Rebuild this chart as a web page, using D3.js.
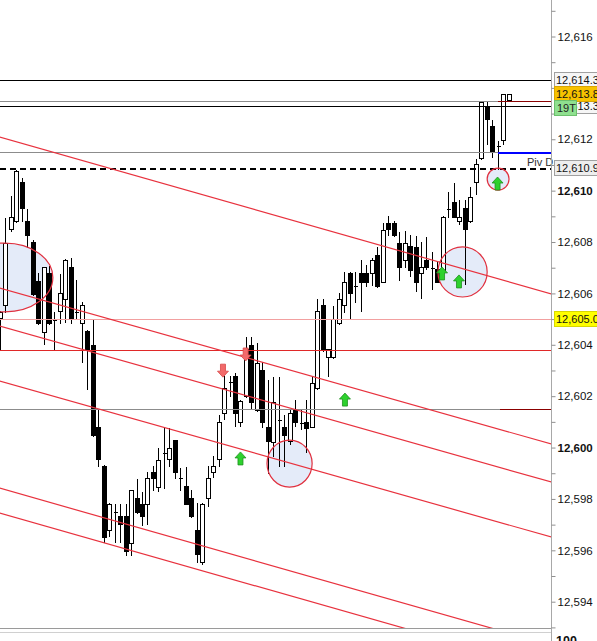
<!DOCTYPE html>
<html><head><meta charset="utf-8">
<script src="https://cdn.jsdelivr.net/npm/d3@7"></script>
<style>
html,body{margin:0;padding:0;background:#fff;overflow:hidden}
svg{display:block}
text{font-family:"Liberation Sans",Arial,sans-serif}
</style></head>
<body>
<svg id="c" width="597" height="641"></svg>
<script>
// ---------- DATA ----------
const opens = [12605.04,12605.51,12608.47,12608.78,12610.30,12608.78,12608.00,12606.48,12604.46,12606.79,
12604.96,12605.28,12605.78,12606.99,12605.28,12604.81,12604.50,12603.99,12600.80,12599.28,
12596.79,12597.49,12597.30,12597.30,12596.28,12598.00,12597.80,12597.80,12599.01,12598.46,
12599.79,12599.52,12600.29,12598.81,12598.50,12598.00,12596.79,12595.51,12598.00,12599.01,
12599.52,12601.31,12602.55,12602.78,12600.99,12601.97,12603.99,12601.46,12602.98,12600.80,
12600.18,12601.07,12600.80,12600.25,12601.46,12600.96,12600.99,12600.80,12602.28,12605.51,
12603.49,12603.49,12604.81,12605.51,12606.79,12606.29,12606.79,12606.79,12606.79,12607.49,
12606.44,12608.74,12608.74,12607.96,12607.30,12607.81,12607.77,12606.79,12607.30,12607.00,
12606.95,12606.83,12609.29,12609.52,12608.78,12609.29,12608.78,12610.30,12611.27,12613.29,
12612.48,12611.74,12611.97,12613.49];
const closes = [12605.24,12607.96,12608.97,12610.75,12609.29,12608.27,12605.94,12604.81,12606.99,12604.81,
12604.96,12605.98,12607.30,12605.00,12605.28,12605.51,12603.80,12600.45,12599.52,12596.48,
12597.80,12597.49,12597.02,12595.97,12598.31,12597.49,12597.30,12598.81,12598.78,12599.48,
12599.79,12599.98,12599.01,12598.81,12597.80,12597.30,12595.82,12597.80,12598.81,12599.28,
12600.99,12602.28,12602.55,12601.31,12601.81,12603.80,12601.77,12603.29,12600.99,12600.25,
12601.77,12601.07,12600.45,12601.31,12600.96,12600.96,12600.76,12602.51,12605.28,12603.80,
12603.80,12605.00,12605.78,12606.44,12605.98,12606.29,12606.44,12606.44,12607.30,12606.25,
12608.43,12608.47,12608.27,12606.99,12607.96,12606.91,12606.44,12606.99,12606.99,12607.00,
12606.44,12608.97,12609.29,12608.97,12608.97,12608.47,12609.75,12611.00,12613.45,12612.75,
12611.47,12611.74,12613.76,12613.76];
const highs = [12605.32,12608.93,12609.79,12610.80,12610.49,12609.29,12608.08,12606.79,12607.03,12607.07,
12605.28,12606.76,12607.34,12607.38,12606.52,12605.67,12604.58,12604.96,12601.46,12599.32,
12597.84,12597.80,12597.80,12597.80,12598.35,12598.78,12598.27,12599.05,12599.28,12599.98,
12600.80,12600.76,12600.29,12599.20,12599.24,12598.35,12597.84,12597.84,12599.28,12599.67,
12601.27,12602.78,12602.78,12602.90,12601.85,12604.30,12604.30,12604.07,12603.33,12602.63,
12602.74,12602.74,12601.27,12601.46,12601.85,12601.46,12601.85,12602.74,12605.78,12605.78,
12603.84,12605.51,12606.02,12606.83,12606.83,12606.83,12607.30,12607.11,12607.38,12607.81,
12608.74,12609.01,12608.82,12608.39,12608.43,12608.27,12608.23,12608.00,12608.20,12607.61,
12607.22,12609.01,12609.95,12610.30,12609.64,12609.64,12610.14,12611.23,12613.49,12613.49,
12612.75,12611.93,12613.76,12613.76];
const lows = [12603.80,12605.24,12608.39,12608.74,12608.78,12607.77,12605.90,12604.77,12603.99,12604.77,
12603.80,12604.81,12604.85,12604.81,12604.96,12603.29,12602.24,12600.40,12599.24,12596.28,
12596.52,12596.28,12596.28,12595.78,12595.78,12597.41,12596.95,12596.99,12598.31,12598.27,
12598.39,12599.24,12598.78,12598.31,12597.76,12597.26,12595.51,12595.43,12597.68,12598.81,
12599.24,12601.07,12601.97,12600.80,12600.80,12601.93,12601.46,12601.38,12600.76,12598.97,
12599.63,12599.24,12599.24,12600.10,12600.80,12600.68,12599.79,12600.75,12602.24,12603.72,
12602.74,12603.45,12604.77,12605.24,12605.00,12605.63,12605.28,12606.25,12606.29,12606.20,
12606.40,12608.23,12608.20,12606.48,12606.99,12606.64,12606.05,12605.78,12606.91,12606.13,
12606.40,12606.52,12608.93,12608.93,12608.66,12606.33,12608.74,12609.83,12611.19,12611.78,
12611.27,12610.80,12611.78,12613.49];

// horizontal levels: price, main colour, from-index of right segment (null = none), segment colour
const levelPrices  = [12614.3, 12613.3, 12613.5, 12611.5, 12610.9, 12605.0, 12603.8, 12601.5];
const levelColors  = ["#000000","#000000","#8c8c8c","#8c8c8c","#000000","#f2a0a0","#e02828","#8c8c8c"];
const levelSegFrom = [null, null, 91, 91, null, null, null, 91.5];
const levelSegColor= [null, null, "#8b0000", "#0000ff", null, null, null, "#8b0000"];

// trend lines: [startIndex, startPrice, endIndex, endPrice]
const trendLines = [
  [0, 12612.09, 100.8, 12605.98],
  [0, 12606.21, 100.8, 12600.14],
  [0, 12604.73, 100.8, 12598.66],
  [0, 12602.59, 100.8, 12596.52],
  [0, 12598.42, 100.8, 12592.31],
  [0, 12597.45, 100.8, 12591.34]
];
// ellipses: [fromIndex, toIndex, topPrice, bottomPrice]
const ellipses = [
  [-7.8, 9.7, 12607.96, 12605.28],
  [48.85, 57.1, 12600.29, 12598.46],
  [80.1, 89.1, 12607.81, 12605.86],
  [89.1, 93.1, 12610.88, 12610.02]
];
// signal arrows: index, tip price, direction
const arrowIdx   = [44, 63.1, 80.85, 83.95, 91, 40.8, 44.95];
const arrowPrice = [12599.83, 12602.12, 12607.03, 12606.72, 12610.53, 12602.74, 12603.37];
const arrowDir   = ["up","up","up","up","up","down","down"];

const tickMin = 12593, tickMax = 12617;
// right-side price boxes
const boxPrices = [12614.3, 12613.3, 12613.76, 12610.9, 12605.0];
const boxTexts  = ["12,614.3","12,613.3","12,613.8","12,610.9","12,605.0"];
const boxFills  = ["#f6f6f6","#f6f6f6","#f7c200","#eeeeee","#ffff00"];

// ---------- SCALES ----------
const W = 597, H = 641, plotR = 551, plotB = 628;
const x = d3.scaleLinear().domain([0, 93]).range([-0.2, 508.5]);
const y = d3.scaleLinear().domain([12616, 12594]).range([36.5, 601.7]);

const svg = d3.select("#c");
svg.append("defs").append("clipPath").attr("id","pc")
  .append("rect").attr("x",0).attr("y",0).attr("width",plotR).attr("height",plotB);

const plot = svg.append("g").attr("clip-path","url(#pc)");

// ellipse fills (below candles)
const ell = ellipses.map(e => ({cx:(x(e[0])+x(e[1]))/2, cy:(y(e[2])+y(e[3]))/2,
  rx:(x(e[1])-x(e[0]))/2, ry:(y(e[3])-y(e[2]))/2}));
plot.selectAll("ellipse.f").data(ell).join("ellipse").attr("class","f")
  .attr("cx",d=>d.cx).attr("cy",d=>d.cy).attr("rx",d=>d.rx).attr("ry",d=>d.ry)
  .attr("fill","#e4ebf9");

// candles
const idx = d3.range(opens.length);
const cg = plot.append("g").attr("shape-rendering","crispEdges");
idx.forEach(i => {
  const px = Math.round(x(i));
  cg.append("line").attr("x1",px+0.5).attr("x2",px+0.5)
    .attr("y1",y(highs[i])).attr("y2",y(lows[i])).attr("stroke","#000").attr("stroke-width",1);
  const o = opens[i], c = closes[i];
  if (Math.abs(y(o)-y(c)) < 1.2) {
    cg.append("line").attr("x1",px-1.5).attr("x2",px+2.5)
      .attr("y1",Math.round(y(o))+0.5).attr("y2",Math.round(y(o))+0.5).attr("stroke","#000");
  } else {
    const top = y(Math.max(o,c)), bot = y(Math.min(o,c));
    cg.append("rect").attr("x",px-1.5).attr("y",top).attr("width",4).attr("height",bot-top)
      .attr("fill", c > o ? "#fff" : "#000").attr("stroke","#000").attr("stroke-width",1);
  }
});

// horizontal levels
levelPrices.forEach((p,k) => {
  const yy = Math.round(y(p)) + 0.5;
  const segX = levelSegFrom[k] == null ? plotR : x(levelSegFrom[k]);
  const dashed = k === 4;
  plot.append("line").attr("x1",0).attr("x2",segX).attr("y1",yy).attr("y2",yy)
    .attr("stroke",levelColors[k]).attr("stroke-width",dashed?2:1)
    .attr("stroke-dasharray",dashed?"6,4":null).attr("shape-rendering","crispEdges");
  if (levelSegFrom[k] != null) {
    plot.append("line").attr("x1",segX).attr("x2",plotR).attr("y1",yy).attr("y2",yy)
      .attr("stroke",levelSegColor[k]).attr("stroke-width",levelSegColor[k]==="#0000ff"?2:1)
      .attr("shape-rendering","crispEdges");
  }
});

// trend lines
plot.selectAll("line.t").data(trendLines).join("line").attr("class","t")
  .attr("x1",d=>x(d[0])).attr("y1",d=>y(d[1])).attr("x2",d=>x(d[2])).attr("y2",d=>y(d[3]))
  .attr("stroke","#e8323e").attr("stroke-width",1.2);

// ellipse outlines
plot.selectAll("ellipse.s").data(ell).join("ellipse").attr("class","s")
  .attr("cx",d=>d.cx).attr("cy",d=>d.cy).attr("rx",d=>d.rx).attr("ry",d=>d.ry)
  .attr("fill","none").attr("stroke","#e0303f").attr("stroke-width",1.2);

// arrows
arrowIdx.forEach((ai,k) => {
  const cx = x(ai), t = y(arrowPrice[k]);
  const s = arrowDir[k] === "up" ? 1 : -1;
  const pts = [[0,0],[5.5,6],[2.5,6],[2.5,13],[-2.5,13],[-2.5,6],[-5.5,6]]
    .map(p => [cx+p[0], t + s*p[1]]);
  plot.append("polygon").attr("points",pts.map(p=>p.join(",")).join(" "))
    .attr("fill", s>0 ? "#2ed12e" : "#f26a6a")
    .attr("stroke", s>0 ? "#1f8f1f" : "#d84848").attr("stroke-width",0.8);
});

// Piv D label
svg.append("text").attr("x",527).attr("y",166).attr("font-size",11).attr("fill","#333").text("Piv D");

// bottom pane separator
svg.append("line").attr("x1",0).attr("x2",plotR).attr("y1",628.5).attr("y2",628.5)
  .attr("stroke","#9a9a9a").attr("shape-rendering","crispEdges");
svg.append("line").attr("x1",0).attr("x2",plotR).attr("y1",632.5).attr("y2",632.5)
  .attr("stroke","#d0d0d0").attr("shape-rendering","crispEdges");

// y axis
const ticks = d3.range(tickMin, tickMax+1);
const axis = d3.axisRight(y).tickValues(ticks).tickSize(4).tickPadding(2)
  .tickFormat(d => d % 2 === 0 ? d3.format(",")(d) : "");
const ag = svg.append("g").attr("transform",`translate(${plotR+0.5},0)`).call(axis);
ag.select(".domain").attr("stroke","#a8a8a8").attr("d","M0,0V641");
ag.selectAll(".tick line").attr("stroke","#909090");
ag.selectAll(".tick text").attr("font-size",11.5).attr("fill","#111")
  .attr("font-family",'"Liberation Sans",Arial,sans-serif')
  .attr("font-weight", d => d % 10 === 0 ? "bold" : null);

// price boxes
boxPrices.forEach((p,k) => {
  const yy = y(p);
  svg.append("rect").attr("x",554.5).attr("y",Math.round(yy)-7.5).attr("width",48).attr("height",15)
    .attr("fill",boxFills[k]).attr("stroke", k===2 ? "#d9a400" : (k===4 ? "#d8d800" : "#a0a0a0"))
    .attr("shape-rendering","crispEdges");
  svg.append("text").attr("x",556).attr("y",yy+4).attr("font-size",11).attr("fill","#111").text(boxTexts[k]);
});
// "19T" tag over the 12,613.3 box
svg.append("rect").attr("x",554.5).attr("y",Math.round(y(12613.3))-5.5).attr("width",22).attr("height",15)
  .attr("fill","#8fe08f").attr("stroke","#6cc06c").attr("shape-rendering","crispEdges");
svg.append("text").attr("x",557).attr("y",y(12613.3)+6).attr("font-size",11).attr("fill","#222").text("19T");

// lower pane label
svg.append("text").attr("x",556).attr("y",645).attr("font-size",12.5).attr("font-weight","bold").attr("fill","#111").text("100");
</script>
</body></html>
